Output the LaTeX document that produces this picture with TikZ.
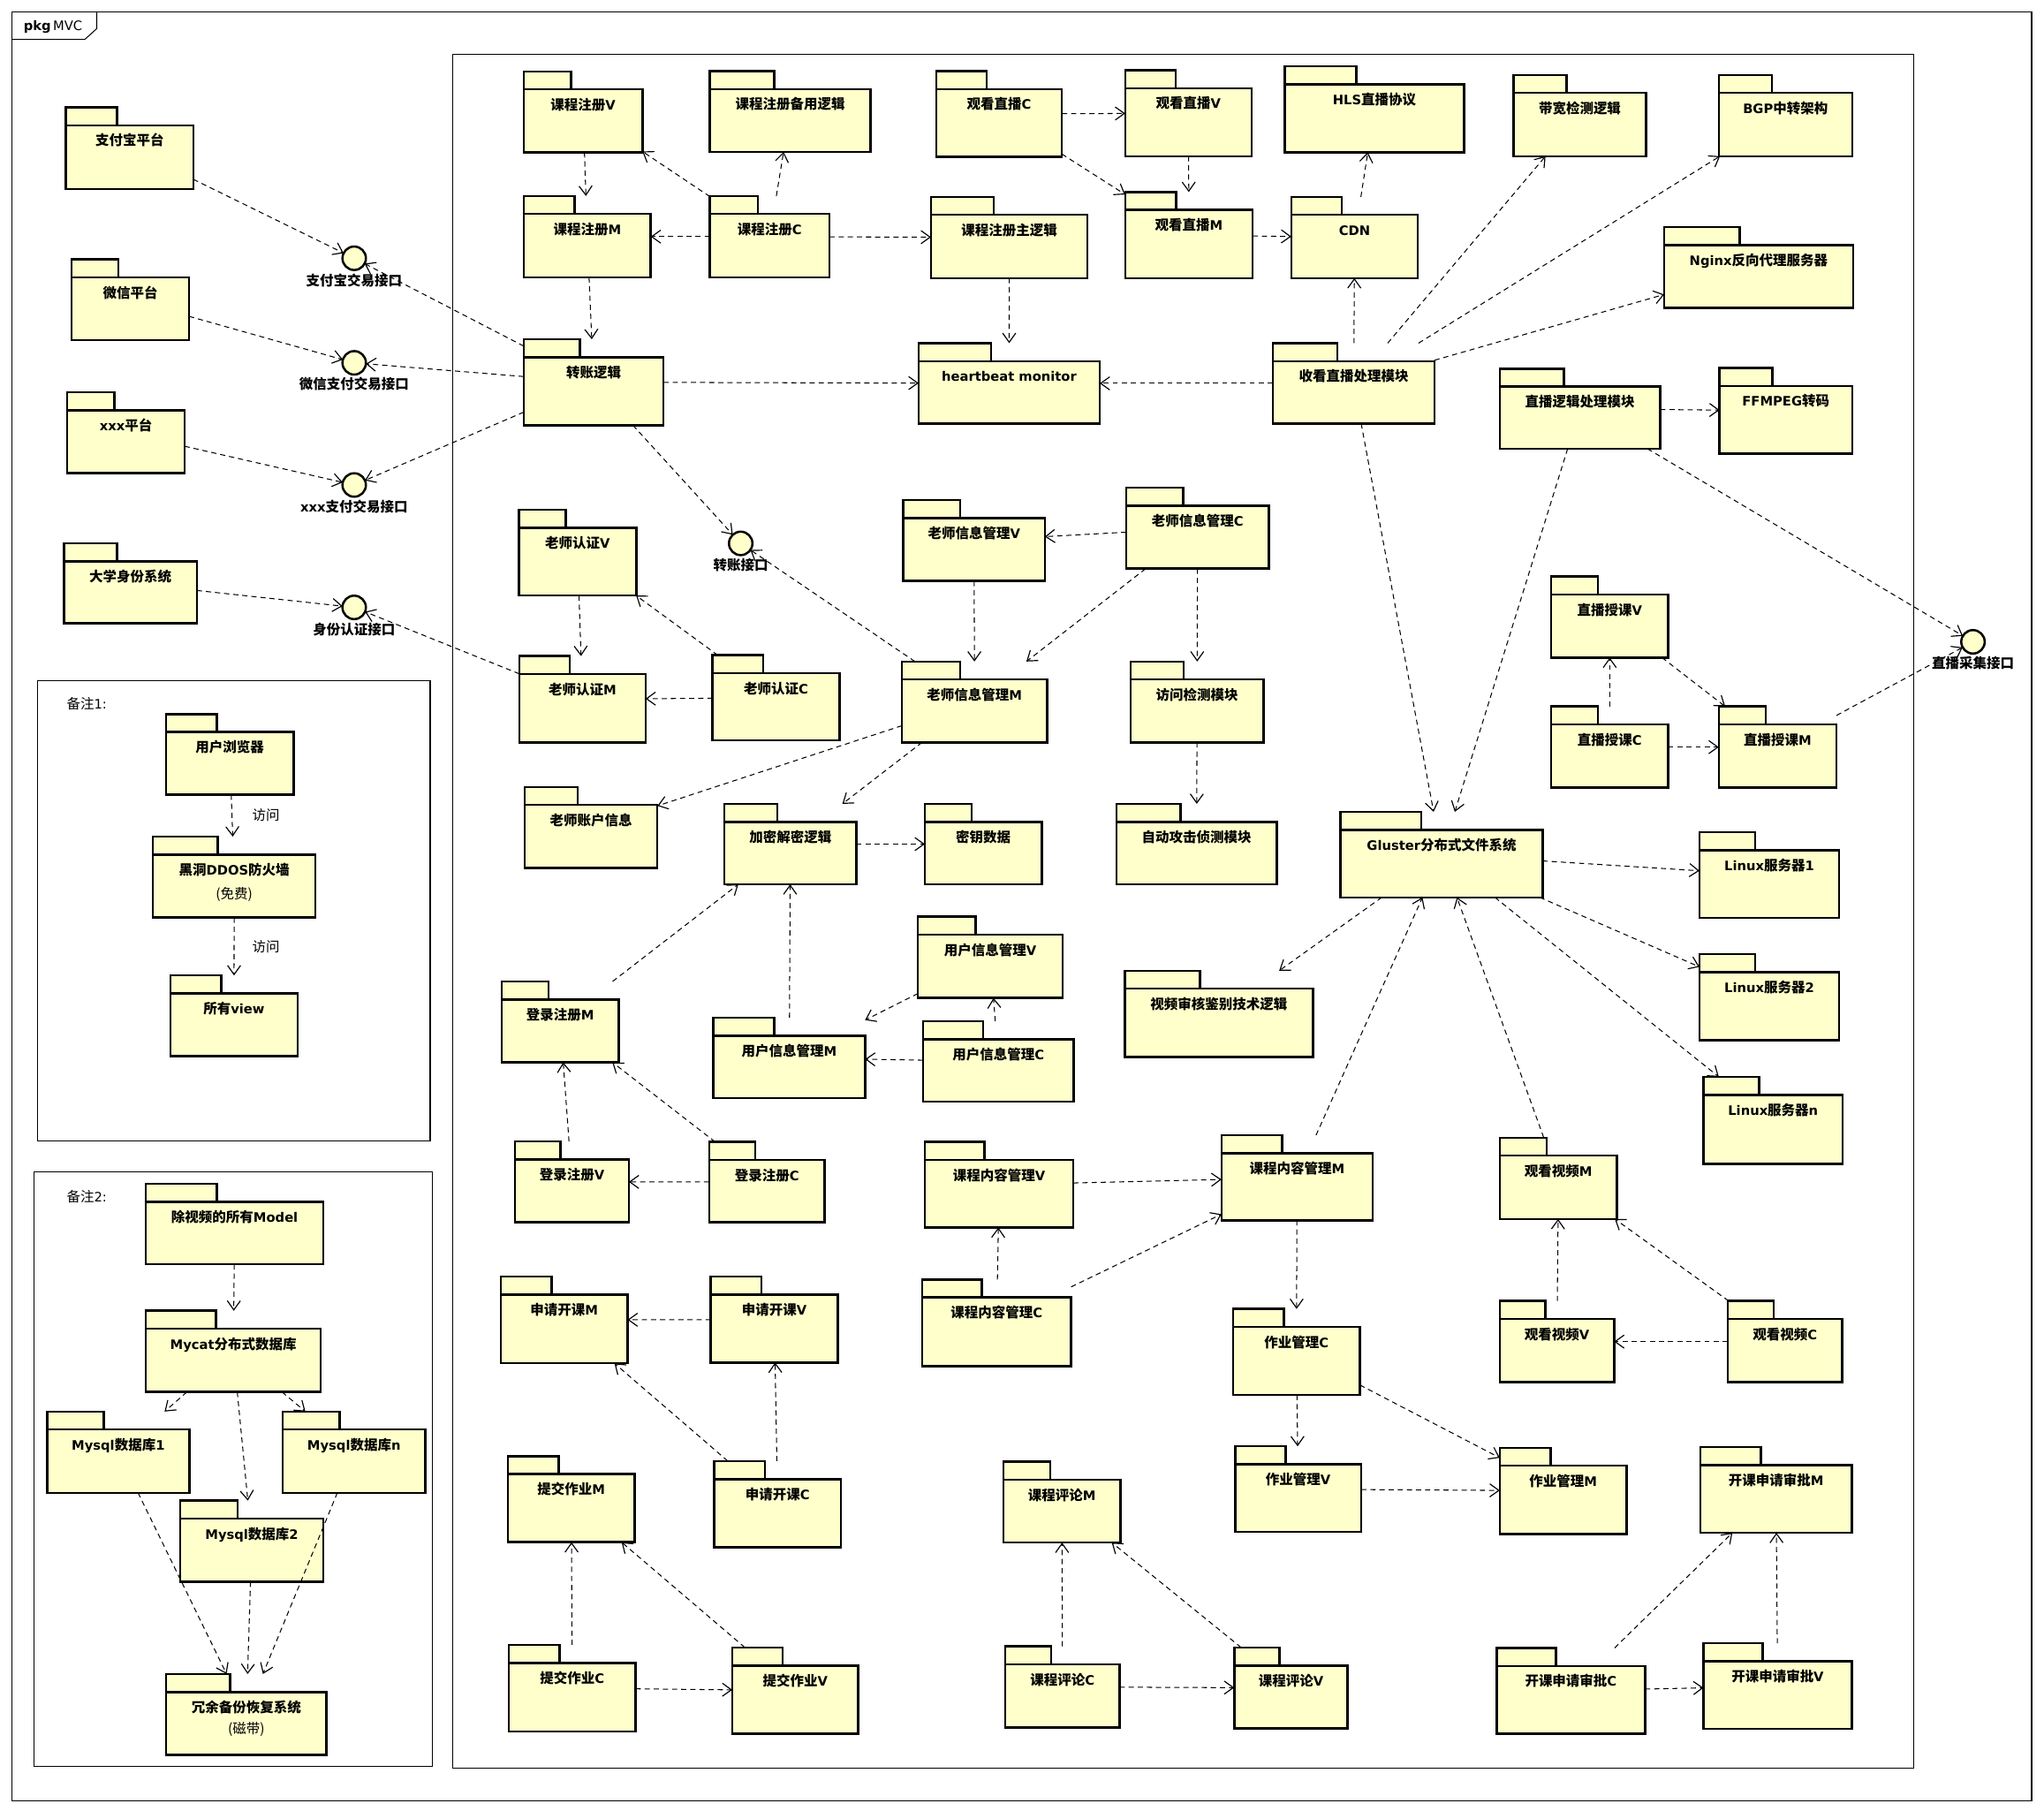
\documentclass[tikz,border=0pt]{standalone}
\usepackage{fontspec}
\setmainfont{Noto Sans CJK SC}
\newfontfamily\latfont{DejaVu Sans}[Scale=0.95]
\newcommand\ltn[1]{{\latfont #1}}
\usetikzlibrary{arrows.meta}
\definecolor{pkgfill}{HTML}{FFFFCC}
\tikzset{
  pkgline/.style={draw=black, line width=1.7pt, fill=pkgfill},
  pkgbox/.style={rectangle, inner sep=0pt, outer sep=0pt},
  pkgtext/.style={font=\fontsize{10.5}{12.6}\selectfont\bfseries, inner sep=0pt},
  plaintext/.style={font=\fontsize{10.5}{12.6}\selectfont, inner sep=0pt},
  dep/.style={draw=black, line width=0.7pt, dash pattern=on 4pt off 3pt,
    -{Straight Barb[length=7pt,width=10pt,line width=0.8pt]}},
  iface/.style={circle, draw=black, line width=1.7pt, fill=pkgfill,
    minimum size=18pt, inner sep=0pt, outer sep=0pt},
  framebox/.style={draw=black, line width=0.7pt},
}
% package: name, left, tab top, right, bottom, title
\newcommand\umlpkg[6]{%
  \pgfmathsetmacro\pkgtab{#2+0.4*(#4-#2)}%
  \pgfmathsetmacro\pkgbody{#3+13.8}%
  \pgfmathsetmacro\pkgcx{(#2+#4)/2}%
  \pgfmathsetmacro\pkgcy{(#3+#5)/2}%
  \pgfmathsetmacro\pkgw{#4-#2}%
  \pgfmathsetmacro\pkgh{#5-#3}%
  \pgfmathsetmacro\pkgty{#3+29.4}%
  \draw[pkgline] (#2,#3) rectangle (\pkgtab,\pkgbody);
  \draw[pkgline] (#2,\pkgbody) rectangle (#4,#5);
  \node[pkgbox, minimum width=\pkgw pt, minimum height=\pkgh pt] (#1) at (\pkgcx,\pkgcy) {};
  \node[pkgtext, anchor=base] (#1-t) at (\pkgcx,\pkgty) {#6};
}
\begin{document}
\begin{tikzpicture}[x=1pt,y=-1pt]
\useasboundingbox (0,0) rectangle (1568,1389);
\fill[white] (0,0) rectangle (1568,1389);

% outer package frame
\draw[framebox] (9,9) rectangle (1558.5,1381);
\draw[framebox] (9,30.3) -- (65,30.3) -- (74.2,22) -- (74.2,9);
\node[plaintext, anchor=west] (frameLabel) at (18,20.5) {\ltn{\textbf{pkg}\,MVC}};

% main area and note boxes
\draw[framebox] (347,42) rectangle (1468,1356);
\draw[framebox] (29,522) rectangle (330,875);
\draw[framebox] (26,899) rectangle (332,1355);
\node[plaintext, anchor=west] (note1) at (51,540) {备注\ltn{1:}};
\node[plaintext, anchor=west] (note2) at (51,918) {备注\ltn{2:}};

% external platforms
\umlpkg{alipay}{50.6}{82.3}{148.3}{144.9}{支付宝平台}
\umlpkg{wechat}{54.9}{199}{145}{261}{微信平台}
\umlpkg{xxx}{51.6}{301}{141.6}{363}{\ltn{xxx}平台}
\umlpkg{univ}{49.2}{416.8}{151}{478.1}{大学身份系统}

% interfaces
\node[iface] (ifAli) at (271.7,198.1) {};
\node[pkgtext] (ifAli-t) at (271.7,215) {支付宝交易接口};
\node[iface] (ifWx) at (271.7,278.3) {};
\node[pkgtext] (ifWx-t) at (271.7,294.5) {微信支付交易接口};
\node[iface] (ifXxx) at (271.7,372) {};
\node[pkgtext] (ifXxx-t) at (271.7,388.7) {\ltn{xxx}支付交易接口};
\node[iface] (ifId) at (271.7,465.9) {};
\node[pkgtext] (ifId-t) at (271.7,482.6) {身份认证接口};
\node[iface] (ifTr) at (568.2,416.8) {};
\node[pkgtext] (ifTr-t) at (568.2,433.2) {转账接口};
\node[iface] (ifLive) at (1513.5,492.3) {};
\node[pkgtext] (ifLive-t) at (1513.5,508.3) {直播采集接口};

% system packages
\umlpkg{regV}{401.8}{54.8}{492.8}{116.8}{课程注册\ltn{V}}
\umlpkg{regBak}{544.6}{54.5}{667.7}{116.5}{课程注册备用逻辑}
\umlpkg{liveC}{718.2}{54.5}{814.6}{120.4}{观看直播\ltn{C}}
\umlpkg{liveV}{863.2}{53.8}{960}{119.8}{观看直播\ltn{V}}
\umlpkg{hls}{985.6}{50.8}{1123.1}{116.8}{\ltn{HLS}直播协议}
\umlpkg{bw}{1161.2}{57.5}{1262.6}{119.8}{带宽检测逻辑}
\umlpkg{bgp}{1318.5}{57.5}{1420.8}{119.8}{\ltn{BGP}中转架构}
\umlpkg{regM}{401.8}{150.3}{499.2}{212.7}{课程注册\ltn{M}}
\umlpkg{regC}{544.6}{150.3}{636.3}{212.7}{课程注册\ltn{C}}
\umlpkg{regMain}{714.2}{151}{834.2}{213.3}{课程注册主逻辑}
\umlpkg{liveM}{863.2}{147.3}{961}{213.3}{观看直播\ltn{M}}
\umlpkg{cdn}{990.6}{151}{1087.7}{213.3}{\ltn{CDN}}
\umlpkg{nginx}{1276.6}{174.2}{1421.5}{236.3}{\ltn{Nginx}反向代理服务器}
\umlpkg{trans}{401.8}{260.2}{509}{326.1}{转账逻辑}
\umlpkg{hb}{704.7}{263.2}{843.6}{324.9}{\ltn{heartbeat monitor}}
\umlpkg{liveProc}{976.5}{263.2}{1100.4}{324.9}{收看直播处理模块}
\umlpkg{liveLogic}{1150.5}{282.8}{1273.6}{344.2}{直播逻辑处理模块}
\umlpkg{ffmpeg}{1319.1}{282.2}{1420.8}{347.9}{\ltn{FFMPEG}转码}
\umlpkg{tauthV}{398.1}{391.1}{488.1}{456.8}{老师认证\ltn{V}}
\umlpkg{tinfoV}{693}{383.6}{801.5}{445.6}{老师信息管理\ltn{V}}
\umlpkg{tinfoC}{863.9}{374.2}{973.4}{436.2}{老师信息管理\ltn{C}}
\umlpkg{tlV}{1190}{442.3}{1279.7}{504.4}{直播授课\ltn{V}}
\umlpkg{tauthM}{398.4}{503.2}{495.2}{569.4}{老师认证\ltn{M}}
\umlpkg{tauthC}{546.6}{502.6}{644.1}{567.9}{老师认证\ltn{C}}
\umlpkg{tinfoM}{691.9}{507.4}{803.2}{569.4}{老师信息管理\ltn{M}}
\umlpkg{access}{867.2}{507.4}{969.4}{569.4}{访问检测模块}
\umlpkg{tlC}{1190}{541.9}{1279.7}{604.2}{直播授课\ltn{C}}
\umlpkg{tlM}{1318.5}{541.9}{1408.8}{604.2}{直播授课\ltn{M}}
\umlpkg{tacct}{402.5}{603.6}{504.3}{665.9}{老师账户信息}
\umlpkg{crypto}{555.7}{616.6}{656.9}{678.3}{加密解密逻辑}
\umlpkg{keydata}{709.5}{616.6}{799.1}{678.3}{密钥数据}
\umlpkg{autoatk}{856.4}{616.6}{979.5}{678.3}{自动攻击侦测模块}
\umlpkg{gluster}{1028.4}{622.7}{1183.3}{688.3}{\ltn{Gluster}分布式文件系统}
\umlpkg{linuxA}{1303.7}{638.4}{1410.8}{704.1}{\ltn{Linux}服务器\ltn{1}}
\umlpkg{uinfoV}{704.1}{703.1}{815.3}{765.5}{用户信息管理\ltn{V}}
\umlpkg{linuxB}{1303.7}{731.9}{1410.8}{797.8}{\ltn{Linux}服务器\ltn{2}}
\umlpkg{vreview}{862.9}{744.6}{1007.1}{810.8}{视频审核鉴别技术逻辑}
\umlpkg{loginM}{385}{752.8}{474.6}{814.8}{登录注册\ltn{M}}
\umlpkg{uinfoM}{547.3}{780.6}{663.6}{842.3}{用户信息管理\ltn{M}}
\umlpkg{uinfoC}{708.1}{783.3}{823.7}{845}{用户信息管理\ltn{C}}
\umlpkg{linuxN}{1306.8}{826}{1413.5}{892.8}{\ltn{Linux}服务器\ltn{n}}
\umlpkg{loginV}{395.1}{875.6}{482.4}{937.4}{登录注册\ltn{V}}
\umlpkg{loginC}{544}{875.9}{632.6}{937.4}{登录注册\ltn{C}}
\umlpkg{ccV}{709.5}{875.9}{823.4}{941.5}{课程内容管理\ltn{V}}
\umlpkg{ccM}{937}{870.7}{1053}{936}{课程内容管理\ltn{M}}
\umlpkg{vidM}{1150.5}{872.6}{1240.5}{935}{观看视频\ltn{M}}
\umlpkg{applyM}{384.3}{979.1}{481.4}{1045.7}{申请开课\ltn{M}}
\umlpkg{applyV}{545.3}{979.1}{642.7}{1045.1}{申请开课\ltn{V}}
\umlpkg{ccC}{707.4}{981.4}{821.7}{1048}{课程内容管理\ltn{C}}
\umlpkg{hwC}{945.8}{1004}{1043.2}{1070}{作业管理\ltn{C}}
\umlpkg{vidV}{1150.5}{997.9}{1238.2}{1060.2}{观看视频\ltn{V}}
\umlpkg{vidC}{1325.5}{997.9}{1413.1}{1060.2}{观看视频\ltn{C}}
\umlpkg{hwSubM}{389.7}{1116.9}{486.8}{1182.9}{提交作业\ltn{M}}
\umlpkg{applyC}{548}{1120.7}{645.1}{1186.7}{申请开课\ltn{C}}
\umlpkg{cmtM}{769.8}{1121.2}{859.5}{1183.2}{课程评论\ltn{M}}
\umlpkg{hwV}{947.5}{1109.4}{1044.2}{1175.1}{作业管理\ltn{V}}
\umlpkg{hwM}{1150.5}{1110.5}{1247.9}{1176.5}{作业管理\ltn{M}}
\umlpkg{aprM}{1304.4}{1110}{1420.5}{1175.7}{开课申请审批\ltn{M}}
\umlpkg{hwSubC}{390.4}{1261.7}{487.5}{1328}{提交作业\ltn{C}}
\umlpkg{hwSubV}{561.8}{1263.7}{658.2}{1329.7}{提交作业\ltn{V}}
\umlpkg{cmtC}{771.2}{1262.8}{858.8}{1325.1}{课程评论\ltn{C}}
\umlpkg{cmtV}{946.8}{1263.7}{1033.8}{1325.6}{课程评论\ltn{V}}
\umlpkg{aprC}{1148.2}{1264}{1261.9}{1329.7}{开课申请审批\ltn{C}}
\umlpkg{aprV}{1306.8}{1260.5}{1420.5}{1326.2}{开课申请审批\ltn{V}}

% note 1 packages
\umlpkg{browser}{127.4}{547.7}{225.2}{609.4}{用户浏览器}
\umlpkg{ddos}{117.3}{641.7}{242}{703.8}{黑洞\ltn{DDOS}防火墙}
\node[plaintext, anchor=base] (ddos-s) at (179.65,689.5) {(免费)};
\umlpkg{allview}{130.8}{748.2}{228.2}{810.2}{所有\ltn{view}}

% note 2 packages
\umlpkg{allModel}{111.9}{908}{248.1}{969.8}{除视频的所有\ltn{Model}}
\umlpkg{mycat}{111.9}{1005.4}{246.1}{1067.7}{\ltn{Mycat}分布式数据库}
\umlpkg{mysqlA}{36.1}{1082.7}{145.3}{1145}{\ltn{Mysql}数据库\ltn{1}}
\umlpkg{mysqlN}{216.8}{1082.7}{326.3}{1145}{\ltn{Mysql}数据库\ltn{n}}
\umlpkg{mysqlB}{138.2}{1151}{248.1}{1213.3}{\ltn{Mysql}数据库\ltn{2}}
\umlpkg{backup}{127.4}{1284}{250.5}{1346.2}{冗余备份恢复系统}
\node[plaintext, anchor=base] (backup-s) at (188.95,1330) {(磁带)};

% dependencies: interfaces
\draw[dep] (alipay) -- (ifAli);
\draw[dep] (trans) -- (ifAli);
\draw[dep] (wechat) -- (ifWx);
\draw[dep] (trans) -- (ifWx);
\draw[dep] (xxx) -- (ifXxx);
\draw[dep] (trans) -- (ifXxx);
\draw[dep] (univ) -- (ifId);
\draw[dep] (tauthM) -- (ifId);
\draw[dep] (trans) -- (ifTr);
\draw[dep] (tinfoM) -- (ifTr);
\draw[dep] (liveLogic) -- (ifLive);
\draw[dep] (tlM) -- (ifLive);

% course registration and payment
\draw[dep] (regV) -- (regM);
\draw[dep] (regC) -- (regV);
\draw[dep] (regC) -- (regBak);
\draw[dep] (regC) -- (regM);
\draw[dep] (regC) -- (regMain);
\draw[dep] (regM) -- (trans);
\draw[dep] (regMain) -- (hb);
\draw[dep] (trans) -- (hb);

% live streaming
\draw[dep] (liveProc) -- (hb);
\draw[dep] (liveC) -- (liveV);
\draw[dep] (liveC) -- (liveM);
\draw[dep] (liveV) -- (liveM);
\draw[dep] (liveM) -- (cdn);
\draw[dep] (cdn) -- (hls);
\draw[dep] (liveProc) -- (cdn);
\draw[dep] (liveProc) -- (bw);
\draw[dep] (liveProc) -- (bgp);
\draw[dep] (liveProc) -- (nginx);
\draw[dep] (liveProc) -- (gluster);
\draw[dep] (liveLogic) -- (ffmpeg);
\draw[dep] (liveLogic) -- (gluster);
\draw[dep] (tlC) -- (tlV);
\draw[dep] (tlV) -- (tlM);
\draw[dep] (tlC) -- (tlM);

% teachers
\draw[dep] (tauthV) -- (tauthM);
\draw[dep] (tauthC) -- (tauthV);
\draw[dep] (tauthC) -- (tauthM);
\draw[dep] (tinfoC) -- (tinfoV);
\draw[dep] (tinfoV) -- (tinfoM);
\draw[dep] (tinfoC) -- (tinfoM);
\draw[dep] (tinfoC) -- (access);
\draw[dep] (access) -- (autoatk);
\draw[dep] (tinfoM) -- (tacct);
\draw[dep] (tinfoM) -- (crypto);
\draw[dep] (crypto) -- (keydata);

% users and login
\draw[dep] (loginM) -- (crypto);
\draw[dep] (uinfoM) -- (crypto);
\draw[dep] (uinfoV) -- (uinfoM);
\draw[dep] (uinfoC) -- (uinfoV);
\draw[dep] (uinfoC) -- (uinfoM);
\draw[dep] (loginV) -- (loginM);
\draw[dep] (loginC) -- (loginM);
\draw[dep] (loginC) -- (loginV);

% file system
\draw[dep] (gluster) -- (vreview);
\draw[dep] (gluster) -- (linuxA);
\draw[dep] (gluster) -- (linuxB);
\draw[dep] (gluster) -- (linuxN);
\draw[dep] (ccM) -- (gluster);
\draw[dep] (vidM) -- (gluster);

% course content, homework, videos
\draw[dep] (ccV) -- (ccM);
\draw[dep] (ccC) -- (ccV);
\draw[dep] (ccC) -- (ccM);
\draw[dep] (ccM) -- (hwC);
\draw[dep] (hwC) -- (hwV);
\draw[dep] (hwC) -- (hwM);
\draw[dep] (hwV) -- (hwM);
\draw[dep] (vidV) -- (vidM);
\draw[dep] (vidC) -- (vidV);
\draw[dep] (vidC) -- (vidM);

% applications, submissions, comments, approvals
\draw[dep] (applyV) -- (applyM);
\draw[dep] (applyC) -- (applyV);
\draw[dep] (applyC) -- (applyM);
\draw[dep] (hwSubC) -- (hwSubM);
\draw[dep] (hwSubV) -- (hwSubM);
\draw[dep] (hwSubC) -- (hwSubV);
\draw[dep] (cmtC) -- (cmtM);
\draw[dep] (cmtV) -- (cmtM);
\draw[dep] (cmtC) -- (cmtV);
\draw[dep] (aprC) -- (aprM);
\draw[dep] (aprV) -- (aprM);
\draw[dep] (aprC) -- (aprV);

% note 1
\draw[dep] (browser) -- (ddos);
\node[plaintext] (visit1) at (204,625.4) {访问};
\draw[dep] (ddos) -- (allview);
\node[plaintext] (visit2) at (204,726.1) {访问};

% note 2
\draw[dep] (allModel) -- (mycat);
\draw[dep] (mycat) -- (mysqlA);
\draw[dep] (mycat) -- (mysqlB);
\draw[dep] (mycat) -- (mysqlN);
\draw[dep] (mysqlA) -- (backup);
\draw[dep] (mysqlB) -- (backup);
\draw[dep] (mysqlN) -- (backup);
\end{tikzpicture}
\end{document}
